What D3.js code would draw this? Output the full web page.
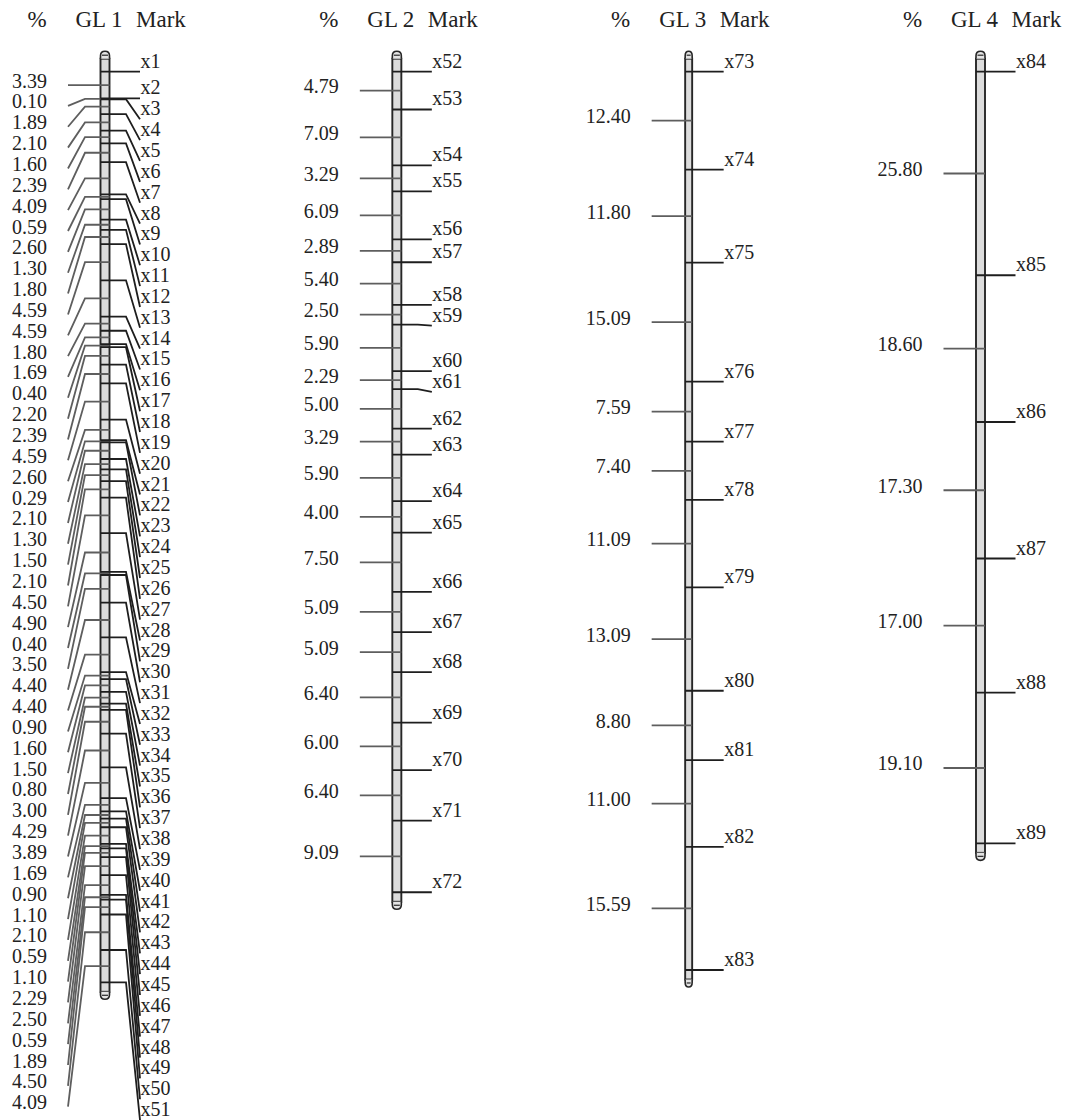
<!DOCTYPE html>
<html>
<head>
<meta charset="utf-8">
<script src="https://cdn.jsdelivr.net/npm/d3@7"></script>
<style>
  html, body { margin: 0; padding: 0; background: #fff; }
  svg { display: block; }
  text { font-family: "Liberation Serif", "DejaVu Serif", serif; fill: #222; }
</style>
</head>
<body>
<div id="chart"></div>
<script>
// ---------------- data ----------------
const groups = ["GL 1", "GL 2", "GL 3", "GL 4"];

const gl1Markers = ["x1","x2","x3","x4","x5","x6","x7","x8","x9","x10","x11","x12","x13","x14","x15","x16","x17","x18","x19","x20","x21","x22","x23","x24","x25","x26","x27","x28","x29","x30","x31","x32","x33","x34","x35","x36","x37","x38","x39","x40","x41","x42","x43","x44","x45","x46","x47","x48","x49","x50","x51"];
const gl1Intervals = [3.39,0.10,1.89,2.10,1.60,2.39,4.09,0.59,2.60,1.30,1.80,4.59,4.59,1.80,1.69,0.40,2.20,2.39,4.59,2.60,0.29,2.10,1.30,1.50,2.10,4.50,4.90,0.40,3.50,4.40,4.40,0.90,1.60,1.50,0.80,3.00,4.29,3.89,1.69,0.90,1.10,2.10,0.59,1.10,2.29,2.50,0.59,1.89,4.50,4.09];

const gl2Markers = ["x52","x53","x54","x55","x56","x57","x58","x59","x60","x61","x62","x63","x64","x65","x66","x67","x68","x69","x70","x71","x72"];
const gl2Intervals = [4.79,7.09,3.29,6.09,2.89,5.40,2.50,5.90,2.29,5.00,3.29,5.90,4.00,7.50,5.09,5.09,6.40,6.00,6.40,9.09];

const gl3Markers = ["x73","x74","x75","x76","x77","x78","x79","x80","x81","x82","x83"];
const gl3Intervals = [12.40,11.80,15.09,7.59,7.40,11.09,13.09,8.80,11.00,15.59];

const gl4Markers = ["x84","x85","x86","x87","x88","x89"];
const gl4Intervals = [25.80,18.60,17.30,17.00,19.10];

const headerLeft = "%";
const headerRight = "Mark";

// ---------------- layout / style ----------------
const W = 1068, H = 1120;
const barWidths = [9, 9, 7, 9];
const labelGap = 20.85;
const fontSize = 20;
const titleSize = 23;

const linkage = [
  { name: groups[0], markers: gl1Markers, intervals: gl1Intervals },
  { name: groups[1], markers: gl2Markers, intervals: gl2Intervals },
  { name: groups[2], markers: gl3Markers, intervals: gl3Intervals },
  { name: groups[3], markers: gl4Markers, intervals: gl4Intervals }
];
linkage.forEach(g => {
  const pos = [0];
  g.intervals.forEach(v => pos.push(pos[pos.length - 1] + v));
  g.positions = pos;
  g.mids = g.intervals.map((v, i) => pos[i] + v / 2);
});

const maxLen = d3.max(linkage, g => g.positions[g.positions.length - 1]);
const y = d3.scaleLinear().domain([0, maxLen]).range([71.7, 71.7 + 7.89 * maxLen]);
const x = d3.scalePoint().domain(groups).range([105, 980.5]);
const fmt = d3.format(".2f");

function spread(vals, gap) {
  const out = [];
  vals.forEach((v, i) => out.push(i === 0 ? v : Math.max(v, out[i - 1] + gap)));
  return out;
}

const svg = d3.select("#chart").append("svg")
  .attr("width", W).attr("height", H)
  .attr("viewBox", `0 0 ${W} ${H}`);
svg.append("rect").attr("width", W).attr("height", H).attr("fill", "#fff");

linkage.forEach((g, gi) => {
  const c = x(g.name);
  const w = barWidths[gi];
  const gg = svg.append("g").attr("class", "linkage-group");

  // headers
  gg.append("text").attr("x", c - 68).attr("y", 27).attr("text-anchor", "middle")
    .attr("font-size", titleSize).text(headerLeft);
  gg.append("text").attr("x", c - 6).attr("y", 27).attr("text-anchor", "middle")
    .attr("font-size", titleSize).text(g.name);
  gg.append("text").attr("x", c + 31).attr("y", 27).attr("text-anchor", "start")
    .attr("font-size", titleSize).text(headerRight);

  const t0 = y(g.positions[0]);
  const tN = y(g.positions[g.positions.length - 1]);
  const top = t0 - 13, bot = tN + 9.5;

  // chromosome bar
  gg.append("rect")
    .attr("x", c - w / 2).attr("y", top)
    .attr("width", w).attr("height", bot - top)
    .attr("fill", "#dcdcdc").attr("stroke", "#262626").attr("stroke-width", 1.9);
  // end caps
  const capTop = `M${c - w / 2},${top} V${top - 3} Q${c - w / 2},${top - 7.5} ${c},${top - 7.5} Q${c + w / 2},${top - 7.5} ${c + w / 2},${top - 3} V${top}`;
  const capBot = `M${c - w / 2},${bot} V${bot + 3} Q${c - w / 2},${bot + 7.5} ${c},${bot + 7.5} Q${c + w / 2},${bot + 7.5} ${c + w / 2},${bot + 3} V${bot}`;
  [capTop, capBot].forEach(p => gg.append("path").attr("d", p)
    .attr("fill", "#e4e4e4").attr("stroke", "#262626").attr("stroke-width", 1.6));
  gg.append("line").attr("x1", c - w / 2 + 1.5).attr("x2", c + w / 2 - 1.5)
    .attr("y1", top - 3.5).attr("y2", top - 3.5).attr("stroke", "#262626").attr("stroke-width", 1.2);
  gg.append("line").attr("x1", c - w / 2 + 1.5).attr("x2", c + w / 2 - 1.5)
    .attr("y1", bot + 3.5).attr("y2", bot + 3.5).attr("stroke", "#262626").attr("stroke-width", 1.2);

  // left: interval distances at interval midpoints
  const leftTicks = g.mids.map(m => y(m));
  const leftLab = spread(leftTicks, labelGap);
  const leftData = g.intervals.map((v, i) => ({ v, t: leftTicks[i], l: leftLab[i] }));
  gg.selectAll("path.left").data(leftData).join("path")
    .attr("class", "left")
    .attr("d", d => `M${c + w / 2},${d.t} H${c - 20} L${c - 37},${d.l}`)
    .attr("fill", "none").attr("stroke", "#5e5e5e").attr("stroke-width", 1.8);
  gg.selectAll("text.left").data(leftData).join("text")
    .attr("class", "left")
    .attr("x", c - 58).attr("y", d => d.l + 2.5)
    .attr("text-anchor", "end").attr("font-size", fontSize)
    .text(d => fmt(d.v));

  // right: marker names at marker positions
  const rightTicks = g.positions.map(p => y(p));
  const rightLab = spread(rightTicks, labelGap);
  const rightData = g.markers.map((m, i) => ({ m, t: rightTicks[i], l: rightLab[i] }));
  gg.selectAll("path.right").data(rightData).join("path")
    .attr("class", "right")
    .attr("d", d => `M${c - w / 2},${d.t} H${c + 21} L${c + 35},${d.l}`)
    .attr("fill", "none").attr("stroke", "#1e1e1e").attr("stroke-width", 1.8);
  gg.selectAll("text.right").data(rightData).join("text")
    .attr("class", "right")
    .attr("x", c + 35.5).attr("y", d => d.l - 4)
    .attr("text-anchor", "start").attr("font-size", fontSize)
    .text(d => d.m);
});
</script>
</body>
</html>
